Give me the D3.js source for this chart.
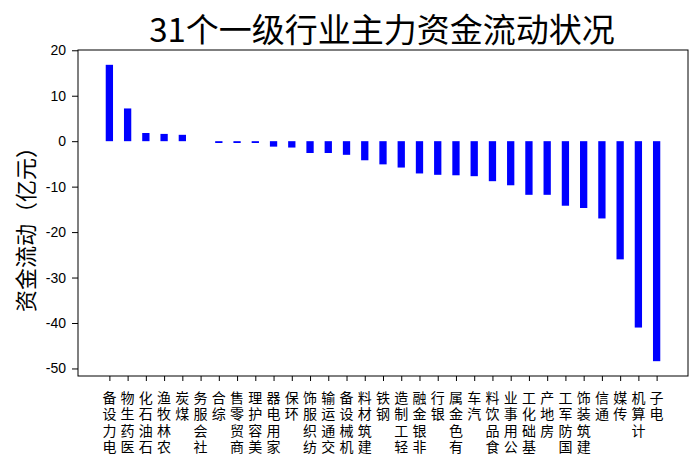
<!DOCTYPE html>
<html>
<head>
<meta charset="utf-8">
<script src="https://cdn.jsdelivr.net/npm/d3@7"></script>
<style>
html,body{margin:0;padding:0;background:#fff;}
svg{display:block;}
text{font-family:"Noto Sans CJK SC","Liberation Sans",sans-serif;}
text.xch{font-family:"Liberation Sans","Noto Sans CJK SC",sans-serif;}
</style>
</head>
<body>
<svg id="chart" width="700" height="468"></svg>
<script>
const categories = ["电力设备","医药生物","石油石化","农林牧渔","煤炭","社会服务","综合","商贸零售","美容护理","家用电器","环保","纺织服饰","交通运输","机械设备","建筑材料","钢铁","轻工制造","非银金融","银行","有色金属","汽车","食品饮料","公用事业","基础化工","房地产","国防军工","建筑装饰","通信","传媒","计算机","电子"];
const values = [16.8,7.2,1.8,1.6,1.4,0,-0.4,-0.4,-0.4,-1.2,-1.4,-2.6,-2.6,-3.0,-4.2,-5.1,-5.8,-7.1,-7.4,-7.5,-7.7,-8.8,-9.7,-11.8,-11.8,-14.2,-14.7,-17.0,-26.0,-41.0,-48.4];
const yTicks = [20,10,0,-10,-20,-30,-40,-50];
const title = "31个一级行业主力资金流动状况";
const yLabel = "资金流动（亿元）";

const svg = d3.select("#chart");
const L = 78, R = 688, T = 50, B = 376;
const n = categories.length;
const bw = 0.4;
const xpad = (n - 1 + bw) * 0.05;
const x = d3.scaleLinear().domain([-bw/2 - xpad, n - 1 + bw/2 + xpad]).range([L, R]);
const ymin = d3.min(values), ymax = d3.max(values);
const ypad = (ymax - ymin) * 0.05;
const y = d3.scaleLinear().domain([ymin - ypad, ymax + ypad]).range([B, T]);

// bars
svg.append("g").selectAll("rect").data(values).join("rect")
  .attr("x", (d,i) => x(i - bw/2))
  .attr("width", (d,i) => x(i + bw/2) - x(i - bw/2))
  .attr("y", d => y(Math.max(0,d)))
  .attr("height", d => Math.abs(y(d) - y(0)))
  .attr("fill", "#0000ff");

// frame
svg.append("rect").attr("x", L).attr("y", T).attr("width", R-L).attr("height", B-T)
  .attr("fill","none").attr("stroke","#000").attr("stroke-width",1);

// y axis
const yAxis = d3.axisLeft(y).tickValues(yTicks).tickSize(6).tickPadding(6).tickFormat(d => String(d));
const gy = svg.append("g").attr("transform", `translate(${L},0)`).call(yAxis);
gy.select(".domain").remove();
gy.selectAll("text").attr("font-size", 14).attr("fill","#000")
  .style("font-family","'Liberation Sans',sans-serif");
gy.selectAll("line").attr("stroke","#000");

// x axis
const xAxis = d3.axisBottom(x).tickValues(d3.range(n)).tickSize(5).tickFormat("");
const gx = svg.append("g").attr("transform", `translate(0,${B})`).call(xAxis);
gx.select(".domain").remove();
gx.selectAll("line").attr("stroke","#000");

// x labels: upright characters stacked, reading bottom to top, top-aligned
const step = 16.3, top0 = 403;
const lab = svg.append("g");
categories.forEach((c,i) => {
  const chars = Array.from(c);
  const m = chars.length;
  const g = lab.append("g").attr("class","xlabel");
  chars.forEach((ch,k) => {
    g.append("text").attr("class","xch").attr("x", x(i)).attr("y", top0 + (m - 1 - k)*step)
      .attr("text-anchor","middle").attr("font-size",14).attr("fill","#000").text(ch);
  });
});

// title
svg.append("text").attr("x", (L+R)/2 - 1).attr("y", 42).attr("text-anchor","middle")
  .attr("font-size", 33).attr("fill","#000").text(title);

// y label
svg.append("text").attr("transform", `translate(34,${(T+B)/2 + 11}) rotate(-90)`)
  .attr("text-anchor","middle").attr("font-size", 22).attr("fill","#000").text(yLabel);
</script>
</body>
</html>
